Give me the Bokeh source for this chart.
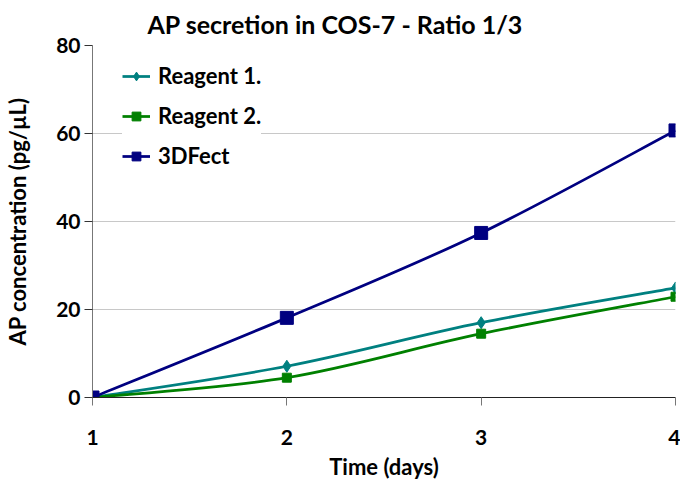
from bokeh.plotting import figure
from bokeh.models import Range1d, FixedTicker, Legend, LegendItem, Title, ColumnDataSource
from bokeh.embed import file_html
from bokeh.resources import INLINE

days = [1, 2, 3, 4]
reagent1 = [0, 7.1, 17.0, 24.9]
reagent2 = [0, 4.5, 14.5, 22.9]
fect3d = [0, 18.1, 37.4, 60.7]
series_names = ["Reagent 1.", "Reagent 2.", "3DFect"]
series_colors = ["#008080", "#008000", "#000080"]
y_ticks = [0, 20, 40, 60, 80]
x_ticks = [1, 2, 3, 4]

FONT = "Lato"

p = figure(width=680, height=483, output_backend="svg", toolbar_location=None,
           x_range=Range1d(1, 4), y_range=Range1d(0, 80),
           min_border_left=92, min_border_right=5, min_border_top=44, min_border_bottom=86)
p.outline_line_color = None
p.background_fill_color = "white"

t = Title(text="AP secretion in COS-7 - Ratio 1/3", align="left", offset=55, standoff=13,
          text_font=FONT, text_font_size="25px", text_font_style="bold", text_color="black")
p.title = t

p.xgrid.grid_line_color = None
p.ygrid.grid_line_color = "#c8c8c8"
p.ygrid.grid_line_width = 1

for ax in (p.xaxis, p.yaxis):
    ax.major_label_text_font = FONT
    ax.major_label_text_font_size = "21px"
    ax.major_label_text_font_style = "bold"
    ax.major_label_text_color = "black"
    ax.axis_label_text_font = FONT
    ax.axis_label_text_font_size = "22px"
    ax.axis_label_text_font_style = "bold"
    ax.axis_label_text_color = "black"
    ax.minor_tick_line_color = None
    ax.major_tick_in = 0
    ax.major_tick_out = 8

p.xaxis.ticker = FixedTicker(ticks=x_ticks)
p.yaxis.ticker = FixedTicker(ticks=y_ticks)
p.xaxis.axis_label = "Time (days)"
p.yaxis.axis_label = "AP concentration (pg/µL)"
p.xaxis.axis_line_color = "#222222"
p.xaxis.major_tick_line_color = "#777777"
p.yaxis.axis_line_color = "#777777"
p.yaxis.major_tick_line_color = "#333333"
p.xaxis.major_label_standoff = 24
p.xaxis.axis_label_standoff = 5
p.yaxis.major_label_standoff = 4
p.yaxis.axis_label_standoff = 22


def smooth_segments(xs, ys):
    # Excel-style smoothed line: cubic Bezier control points derived from the points
    n = len(xs)
    x0, y0, x1, y1, cx0, cy0, cx1, cy1 = [], [], [], [], [], [], [], []
    for i in range(n - 1):
        im1 = max(i - 1, 0)
        ip2 = min(i + 2, n - 1)
        x0.append(xs[i]); y0.append(ys[i])
        x1.append(xs[i + 1]); y1.append(ys[i + 1])
        cx0.append(xs[i] + (xs[i + 1] - xs[im1]) / 6.0)
        cy0.append(ys[i] + (ys[i + 1] - ys[im1]) / 6.0)
        cx1.append(xs[i + 1] - (xs[ip2] - xs[i]) / 6.0)
        cy1.append(ys[i + 1] - (ys[ip2] - ys[i]) / 6.0)
    return ColumnDataSource(dict(x0=x0, y0=y0, x1=x1, y1=y1, cx0=cx0, cy0=cy0, cx1=cx1, cy1=cy1))


items = []
specs = [
    (reagent1, "diamond", 12),
    (reagent2, "square", 9),
    (fect3d, "square", 13),
]
for name, color, (vals, marker, size) in zip(series_names, series_colors, specs):
    src = smooth_segments(days, vals)
    b = p.bezier(x0="x0", y0="y0", x1="x1", y1="y1", cx0="cx0", cy0="cy0", cx1="cx1", cy1="cy1",
                 source=src, line_color=color, line_width=2.75)
    s = p.scatter(days, vals, marker=marker, size=size, fill_color=color, line_color=color)
    items.append(LegendItem(label=name, renderers=[b, s]))

legend = Legend(items=items, location=(30, 228), orientation="vertical",
                label_text_font=FONT, label_text_font_size="22px", label_text_font_style="bold",
                label_text_color="black", glyph_width=28, glyph_height=22, label_height=22,
                spacing=13, padding=10, margin=0, label_standoff=8,
                border_line_color=None, background_fill_color="white", background_fill_alpha=1.0)
p.add_layout(legend, "center")

open("out.html", "w").write(file_html(p, INLINE))
